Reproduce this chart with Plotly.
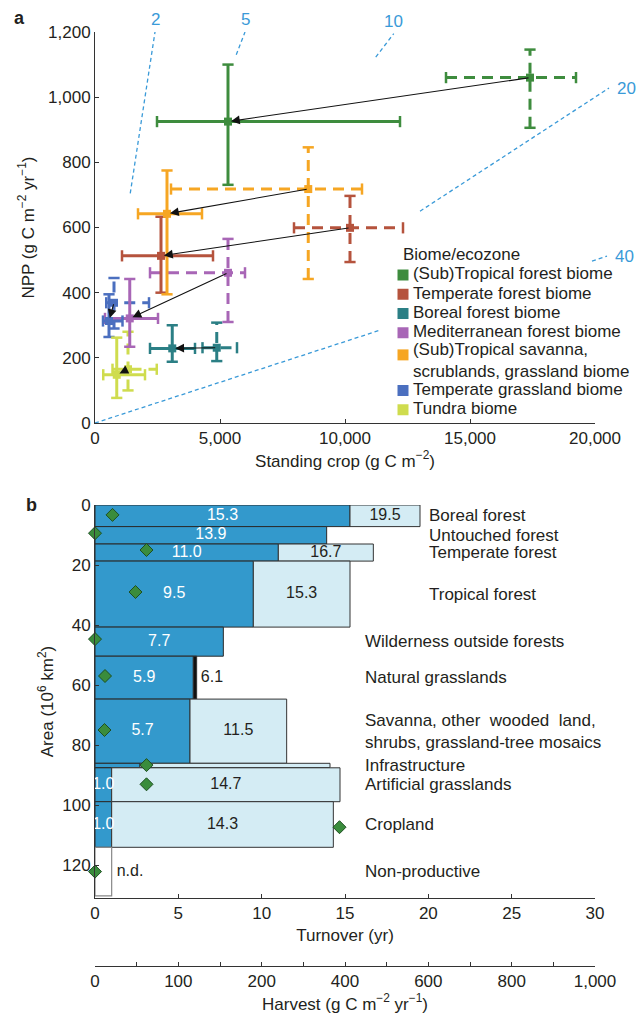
import plotly.graph_objects as go

W, H = 641, 1017

# ---------------- Panel a data ----------------
biomes = [
    "(Sub)Tropical forest biome",
    "Temperate forest biome",
    "Boreal forest biome",
    "Mediterranean forest biome",
    "(Sub)Tropical savanna,<br>scrublands, grassland biome",
    "Temperate grassland biome",
    "Tundra biome",
]
biome_colors = ["#3E8C3E", "#B5533D", "#2B7F85", "#A866B6", "#F6A623", "#4B6FBF", "#CFDC4E"]

# actual (solid) standing crop / NPP with error ranges
act_sc = [5320, 2640, 3090, 1390, 2880, 560, 870]
act_npp = [925, 513, 229, 321, 642, 313, 148]
act_sc_lo = [2480, 1080, 2200, 400, 1720, 320, 330]
act_sc_hi = [12200, 4720, 4000, 2520, 4280, 1100, 2000]
act_npp_lo = [731, 400, 188, 234, 395, 264, 77]
act_npp_hi = [1100, 633, 300, 442, 775, 395, 262]

# potential (dashed)
pot_sc = [17400, 10200, 4870, 5320, 8530, 760, 1320]
pot_npp = [1060, 599, 231, 461, 718, 369, 165]
pot_sc_lo = [14040, 7960, 4300, 2200, 3040, 450, 700]
pot_sc_hi = [19240, 12320, 5680, 6000, 10680, 2160, 2470]
pot_npp_lo = [906, 494, 190, 310, 442, 290, 100]
pot_npp_hi = [1146, 697, 308, 565, 846, 445, 280]

# turnover-time guide lines (years) and the NPP stretches on which they are drawn
guide_turnover = [2, 5, 10, 20, 40]
guide_segments = [
    [(705, 1200)],
    [(1130, 1200)],
    [(1123, 1195)],
    [(650, 1028)],
    [(0, 285), (497, 512)],
]

# ---------------- Panel b data ----------------
categories = [
    "Boreal forest", "Untouched forest", "Temperate forest", "Tropical forest",
    "Wilderness outside forests", "Natural grasslands",
    "Savanna, other  wooded  land,<br>shrubs, grassland-tree mosaics",
    "Infrastructure", "Artificial grasslands", "Cropland", "Non-productive",
]
area_top = [0, 7.2, 13.0, 18.7, 40.7, 50.4, 64.7, 86.1, 87.6, 98.9, 114.1]
area_bottom = [7.2, 13.0, 18.7, 40.7, 50.4, 64.7, 86.1, 87.5, 98.9, 114.1, 130.3]
turnover_act = [15.3, 13.9, 11.0, 9.5, 7.7, 5.9, 5.7, 2.7, 1.0, 1.0, None]
turnover_pot = [19.5, None, 16.7, 15.3, None, 6.1, 11.5, 14.1, 14.7, 14.3, None]
act_labels = ["15.3", "13.9", "11.0", "9.5", "7.7", "5.9", "5.7", "", "1.0", "1.0", ""]
pot_labels = ["19.5", "", "16.7", "15.3", "", "6.1", "11.5", "", "14.7", "14.3", ""]
nd_width = 1.0
harvest_pos = [35, 0, 103, 81, 0, 20, 19, 103, 103, 489, 0]
diamond_area = [3.3, 9.4, 15.0, 29.0, 44.7, 57.0, 75.0, 86.7, 93.1, 107.4, 122.2]

turnover_ticks = [0, 5, 10, 15, 20, 25, 30]
harvest_tick_pos = [0, 166.67, 333.33, 500, 666.67, 833.33, 1000]
harvest_tick_text = ["0", "100", "200", "400", "600", "800", "1,000"]
harvest_minor_pos = [83.33, 250, 416.67, 583.33, 750, 916.67]

# legend layout slots (rows)
legend_marker_row = [0, 1, 2, 3, 4.15, 6, 7]
legend_text_row = [0, 1, 2, 3, 4.5, 6, 7]

# ---------------- styling ----------------
FONT = "Liberation Sans, Arial, Helvetica, sans-serif"
TXT = "#231F20"
FS = 17
FSB = 16
GUIDE = "#3A9AD8"
DARK = "#3399CC"
LIGHT = "#D4ECF4"
DIAM = "#3A8C3C"


def px_x(p):
    return p / W


def px_y(p):
    return 1 - p / H


fig = go.Figure()

# ---- guide lines (on a wider invisible overlay so they can run past the axis end) ----
for T, segs in zip(guide_turnover, guide_segments):
    for lo, hi in segs:
        fig.add_trace(go.Scatter(x=[lo * T, hi * T], y=[lo, hi], mode="lines",
                                 line=dict(color=GUIDE, width=1.3, dash="4px,3px"),
                                 xaxis="x4", yaxis="y4", showlegend=False, hoverinfo="skip"))
    lo, hi = segs[-1]
    if T <= 10:
        fig.add_annotation(x=hi * T, y=hi, xref="x4", yref="y4", text=str(T), showarrow=False,
                           xanchor="center", yanchor="bottom", yshift=1,
                           font=dict(color=GUIDE, size=FS, family=FONT))
    else:
        fig.add_annotation(x=hi * T, y=hi, xref="x4", yref="y4", text=str(T), showarrow=False,
                           xanchor="left", yanchor="middle", xshift=6,
                           font=dict(color=GUIDE, size=FS, family=FONT))


def cross(xc, yc, xlo, xhi, ylo, yhi, color, dash):
    fig.add_trace(go.Scatter(x=[xlo, xhi], y=[yc, yc], mode="lines",
                             line=dict(color=color, width=3, dash=dash),
                             showlegend=False, hoverinfo="skip", xaxis="x", yaxis="y"))
    fig.add_trace(go.Scatter(x=[xlo, xhi], y=[yc, yc], mode="markers",
                             marker=dict(symbol="line-ns", size=8, line=dict(color=color, width=2.5)),
                             showlegend=False, hoverinfo="skip", xaxis="x", yaxis="y"))
    fig.add_trace(go.Scatter(x=[xc, xc], y=[ylo, yhi], mode="lines",
                             line=dict(color=color, width=3, dash=dash),
                             showlegend=False, hoverinfo="skip", xaxis="x", yaxis="y"))
    fig.add_trace(go.Scatter(x=[xc, xc], y=[ylo, yhi], mode="markers",
                             marker=dict(symbol="line-ew", size=8, line=dict(color=color, width=2.5)),
                             showlegend=False, hoverinfo="skip", xaxis="x", yaxis="y"))
    fig.add_trace(go.Scatter(x=[xc], y=[yc], mode="markers",
                             marker=dict(symbol="square", size=8, color=color),
                             showlegend=False, hoverinfo="skip", xaxis="x", yaxis="y"))


for i in range(len(biomes)):
    cross(pot_sc[i], pot_npp[i], pot_sc_lo[i], pot_sc_hi[i], pot_npp_lo[i], pot_npp_hi[i],
          biome_colors[i], "11px,7px")
for i in range(len(biomes)):
    cross(act_sc[i], act_npp[i], act_sc_lo[i], act_sc_hi[i], act_npp_lo[i], act_npp_hi[i],
          biome_colors[i], "solid")

for i in range(len(biomes)):
    fig.add_annotation(x=act_sc[i], y=act_npp[i], ax=pot_sc[i], ay=pot_npp[i],
                       xref="x", yref="y", axref="x", ayref="y", text="", showarrow=True,
                       arrowhead=2, arrowsize=1.6, arrowwidth=1.1, arrowcolor="#111111", standoff=3)

# legend (drawn on its own invisible axes)
fig.add_trace(go.Scatter(x=[0] * len(biomes), y=legend_marker_row, mode="markers",
                         marker=dict(symbol="square", size=11, color=biome_colors),
                         xaxis="x5", yaxis="y5", showlegend=False, hoverinfo="skip", cliponaxis=False))
fig.add_trace(go.Scatter(x=[0.042] * len(biomes), y=legend_text_row, mode="text", text=biomes,
                         textposition="middle right",
                         textfont=dict(size=FS, color=TXT, family=FONT),
                         xaxis="x5", yaxis="y5", showlegend=False, hoverinfo="skip", cliponaxis=False))

# ---------------- Panel b ----------------
centers = [(t + b) / 2 for t, b in zip(area_top, area_bottom)]
heights = [b - t for t, b in zip(area_top, area_bottom)]

ia = [i for i, v in enumerate(turnover_act) if v is not None]
fig.add_trace(go.Bar(orientation="h", y=[centers[i] for i in ia], x=[turnover_act[i] for i in ia],
                     base=[0] * len(ia), width=[heights[i] for i in ia],
                     marker=dict(color=DARK, line=dict(color="#2a2a2a", width=1)),
                     xaxis="x2", yaxis="y2", showlegend=False, hoverinfo="skip"))
ip = [i for i, v in enumerate(turnover_pot) if v is not None]
pot_colors = ["#111111" if categories[i] == "Natural grasslands" else LIGHT for i in ip]
fig.add_trace(go.Bar(orientation="h", y=[centers[i] for i in ip],
                     x=[turnover_pot[i] - turnover_act[i] for i in ip],
                     base=[turnover_act[i] for i in ip], width=[heights[i] for i in ip],
                     marker=dict(color=pot_colors, line=dict(color="#333333", width=1)),
                     xaxis="x2", yaxis="y2", showlegend=False, hoverinfo="skip"))
inn = [i for i, v in enumerate(turnover_act) if v is None]
fig.add_trace(go.Bar(orientation="h", y=[centers[i] for i in inn], x=[nd_width] * len(inn),
                     base=[0] * len(inn), width=[heights[i] for i in inn],
                     marker=dict(color="white", line=dict(color="#888888", width=1.2)),
                     xaxis="x2", yaxis="y2", showlegend=False, hoverinfo="skip"))

fig.add_trace(go.Scatter(x=[turnover_act[i] / 2 for i in ia if act_labels[i]],
                         y=[centers[i] for i in ia if act_labels[i]],
                         text=[act_labels[i] for i in ia if act_labels[i]], mode="text",
                         textfont=dict(color="white", size=FSB, family=FONT), cliponaxis=False,
                         xaxis="x2", yaxis="y2", showlegend=False, hoverinfo="skip"))
mid_idx = [i for i in ip if pot_labels[i] and categories[i] != "Natural grasslands"]
fig.add_trace(go.Scatter(x=[(turnover_act[i] + turnover_pot[i]) / 2 for i in mid_idx],
                         y=[centers[i] for i in mid_idx],
                         text=[pot_labels[i] for i in mid_idx], mode="text",
                         textfont=dict(color=TXT, size=FSB, family=FONT), cliponaxis=False,
                         xaxis="x2", yaxis="y2", showlegend=False, hoverinfo="skip"))
side_idx = [i for i in ip if categories[i] == "Natural grasslands"]
fig.add_trace(go.Scatter(x=[turnover_pot[i] + 0.25 for i in side_idx],
                         y=[centers[i] for i in side_idx],
                         text=[pot_labels[i] for i in side_idx], mode="text", textposition="middle right",
                         textfont=dict(color=TXT, size=FSB, family=FONT), cliponaxis=False,
                         xaxis="x2", yaxis="y2", showlegend=False, hoverinfo="skip"))
fig.add_trace(go.Scatter(x=[nd_width + 0.3 for _ in inn], y=[centers[i] for i in inn],
                         text=["n.d." for _ in inn], mode="text", textposition="middle right",
                         textfont=dict(color=TXT, size=FSB, family=FONT), cliponaxis=False,
                         xaxis="x2", yaxis="y2", showlegend=False, hoverinfo="skip"))

fig.add_trace(go.Scatter(x=harvest_pos, y=diamond_area, mode="markers",
                         marker=dict(symbol="diamond", size=10, color=DIAM,
                                     line=dict(color="#1E4F22", width=1)),
                         cliponaxis=False, xaxis="x3", yaxis="y2", showlegend=False, hoverinfo="skip"))

for k, (cat, c) in enumerate(zip(categories, centers)):
    fig.add_annotation(x=19.9 if k < 4 else 16.1, y=c, xref="x2", yref="y2", text=cat,
                       showarrow=False, xanchor="left", yanchor="middle", align="left",
                       font=dict(size=FS, color=TXT, family=FONT))

fig.add_annotation(x=px_x(12), y=px_y(18), xref="paper", yref="paper", text="<b>a</b>",
                   showarrow=False, xanchor="left", yanchor="middle", font=dict(size=18, color=TXT, family=FONT))
fig.add_annotation(x=px_x(24), y=px_y(505), xref="paper", yref="paper", text="<b>b</b>",
                   showarrow=False, xanchor="left", yanchor="middle", font=dict(size=18, color=TXT, family=FONT))
fig.add_annotation(x=px_x(401), y=px_y(255), xref="paper", yref="paper", text="Biome/ecozone",
                   showarrow=False, xanchor="left", yanchor="middle", font=dict(size=FS, color=TXT, family=FONT))

axis_common = dict(showline=True, linecolor="#333333", linewidth=1, ticks="inside", ticklen=4,
                   tickcolor="#333333", showgrid=False, zeroline=False, automargin=False,
                   tickfont=dict(size=FS, color=TXT, family=FONT))
hidden = dict(visible=False, automargin=False)

xa_dom = [px_x(95), px_x(595)]
ROW = 19.25
fig.update_layout(
    template="none",
    width=W, height=H, margin=dict(l=0, r=0, t=0, b=0, pad=0, autoexpand=False),
    paper_bgcolor="white", plot_bgcolor="rgba(0,0,0,0)",
    font=dict(family=FONT, size=FS, color=TXT),
    barmode="overlay",
    showlegend=False,
    xaxis=dict(domain=xa_dom, anchor="y", range=[0, 20000], tickvals=[0, 5000, 10000, 15000, 20000],
               tickformat=",d",
               title=dict(text="Standing crop (g C m<sup>−2</sup>)", font=dict(size=FS), standoff=6),
               **axis_common),
    yaxis=dict(domain=[px_y(423), px_y(32)], anchor="x", range=[0, 1200], dtick=200, tickformat=",d",
               title=dict(text="NPP (g C m<sup>−2</sup> yr<sup>−1</sup>)", font=dict(size=FS), standoff=9),
               **axis_common),
    xaxis4=dict(domain=[px_x(95), px_x(620)], anchor="y4", range=[0, 21000], **hidden),
    yaxis4=dict(domain=[px_y(423), px_y(32)], anchor="x4", range=[0, 1200], **hidden),
    xaxis5=dict(domain=[px_x(403), px_x(640)], anchor="y5", range=[0, 1], **hidden),
    yaxis5=dict(domain=[px_y(275 + ROW * 7.5), px_y(275 - ROW * 0.5)], anchor="x5",
                range=[7.5, -0.5], **hidden),
    xaxis2=dict(domain=xa_dom, anchor="y2", range=[0, 30], tickvals=turnover_ticks,
                title=dict(text="Turnover (yr)", font=dict(size=FS), standoff=6),
                **axis_common),
    yaxis2=dict(domain=[px_y(898), px_y(505)], anchor="x2", range=[131, 0], tickvals=[0, 20, 40, 60, 80, 100, 120],
                title=dict(text="Area (10<sup>6</sup> km<sup>2</sup>)", font=dict(size=FS), standoff=4),
                **axis_common),
    xaxis3=dict(overlaying="x2", anchor="free", position=px_y(966), side="bottom",
                range=[0, 1000], tickvals=harvest_tick_pos, ticktext=harvest_tick_text,
                minor=dict(tickvals=harvest_minor_pos, ticks="inside", ticklen=4, tickcolor="#333333"),
                title=dict(text="Harvest (g C m<sup>−2</sup> yr<sup>−1</sup>)", font=dict(size=FS), standoff=6),
                **axis_common),
)

fig.write_html("out.html", config={"displayModeBar": False},
               post_script="document.body.style.margin='0';document.body.style.overflow='hidden';")
